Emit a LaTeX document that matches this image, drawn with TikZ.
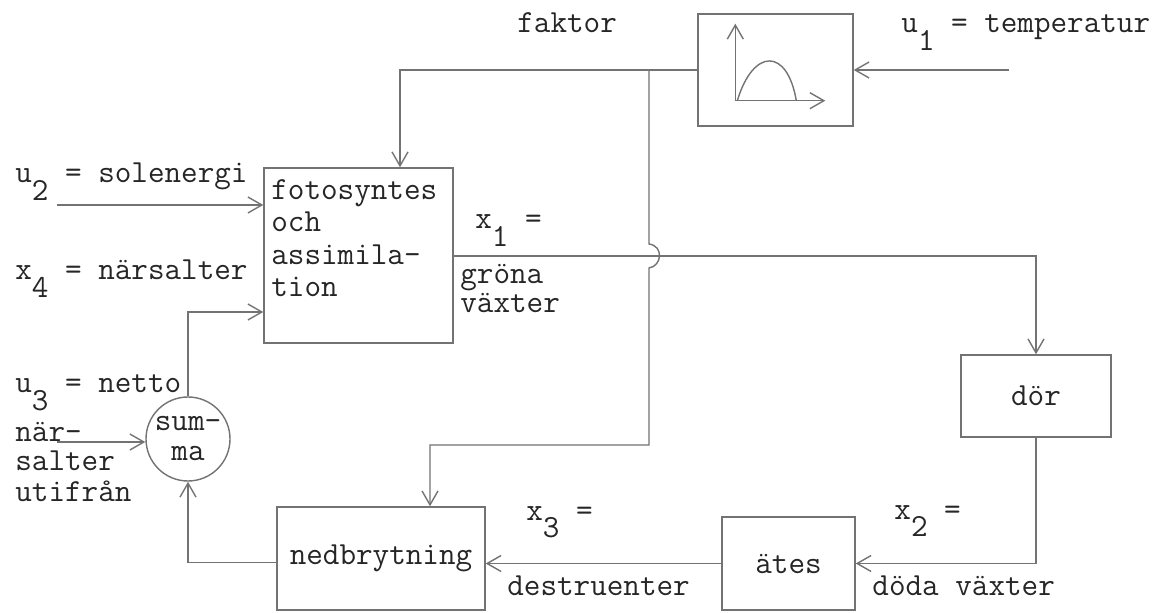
\documentclass[tikz,border=0pt]{standalone}
\usepackage{fontspec}
\usetikzlibrary{arrows.meta,calc}
\newcommand\lsub[1]{\raisebox{-0.55em}{#1}}
\begin{document}
\begin{tikzpicture}[x=0.5pt,y=-0.5pt,
  every node/.style={font=\fontsize{16.1}{15}\selectfont\ttfamily, text=black!85},
  line/.style={draw=black!55, line width=0.7pt},
  arr/.style={line, -{Straight Barb[length=7pt,width=8pt,line width=0.7pt]}},
  box/.style={line, rectangle, inner sep=0pt},
  lbl/.style={inner sep=0pt, anchor=base west}]
\useasboundingbox (0,0) rectangle (1159,613);
\fill[white] (0,0) rectangle (1159,613);

% boxes
\node[box, minimum width=77.5pt, minimum height=56pt] (F) at (775.5,70) {};
\node[box, minimum width=94.5pt, minimum height=87.5pt] (P) at (358.5,255.5) {};
\node[box, minimum width=75pt, minimum height=41pt] (D) at (1036,396) {dör};
\node[box, minimum width=66.5pt, minimum height=46.5pt] (A) at (788.5,563.5) {ätes};
\node[box, minimum width=104pt, minimum height=51.5pt] (N) at (381,558.5) {nedbrytning};
\node[line, circle, minimum size=42pt, inner sep=0pt] (S) at (188,439) {\raisebox{-6pt}{\parbox{2.2em}{\centering sum-\\ma}}};

% function graph inside F
\coordinate (o) at ($(F.south west)+(38,-26)$);
\draw[arr] (o) -- ++(0,-77);
\draw[arr] (o) -- ++(90,0);
\draw[line] ($(o)+(2,0)$) .. controls ($(o)+(18,-53)$) and ($(o)+(52,-53)$) .. ($(o)+(61,0)$);

% labels
\node[lbl] (lfak) at (517,33) {faktor};
\node[lbl] (lu1) at (901,33) {u\lsub{1} = temperatur};
\node[lbl] (lu2) at (15,183) {u\lsub{2} = solenergi};
\node[lbl] (lx4) at (15,280) {x\lsub{4} = närsalter};
\node[lbl] (lu3) at (15,393) {u\lsub{3} = netto};
\node[lbl] (lu3b) at (15,442) {när-};
\node[lbl] (lu3c) at (15,471) {salter};
\node[lbl] (lu3d) at (15,502) {utifrån};
\node[lbl] (p1) at (271,200) {fotosyntes};
\node[lbl] (p2) at (271,232) {och};
\node[lbl] (p3) at (271,265) {assimila-};
\node[lbl] (p4) at (271,297) {tion};
\node[lbl] (lx1) at (475,229) {x\lsub{1} =};
\node[lbl] (lx1b) at (460,284) {gröna};
\node[lbl] (lx1c) at (460,313) {växter};
\node[lbl] (lx3) at (526,520) {x\lsub{3} =};
\node[lbl] (lx3b) at (507,595) {destruenter};
\node[lbl] (lx2) at (894,519) {x\lsub{2} =};
\node[lbl] (lx2b) at (872,595) {döda växter};

% connectors
\coordinate (u1s) at (1009,70);
\draw[arr] (u1s) -- (F.east);
\coordinate (t1) at (400,70);
\draw[arr] (F.west) -- (t1) -- (t1 |- P.north);
\coordinate (j) at (649,70);
\coordinate (b1) at (649,445);
\coordinate (b2) at (430,445);
\draw[arr] (j) -- (649,244) .. controls (664,246) and (662,266) .. (649,268) -- (b1) -- (b2) -- (b2 |- N.north);
\coordinate (c1) at (1036,256);
\draw[arr] (P.east |- c1) -- (c1) -- (D.north);
\coordinate (c2) at (1036,563.5);
\draw[arr] (D.south) -- (c2) -- (A.east);
\draw[arr] (A.west) -- (A.west -| N.east);
\draw[arr] ($(N.west)+(0,4)$) -| (S.south);
\coordinate (c3) at (188,312);
\draw[arr] (S.north) -- (c3) -- (c3 -| P.west);
\coordinate (u2s) at (57,205);
\draw[arr] (u2s) -- (u2s -| P.west);
\coordinate (u3s) at (57,442);
\draw[arr] (u3s) -- (u3s -| S.west);
\end{tikzpicture}
\end{document}
